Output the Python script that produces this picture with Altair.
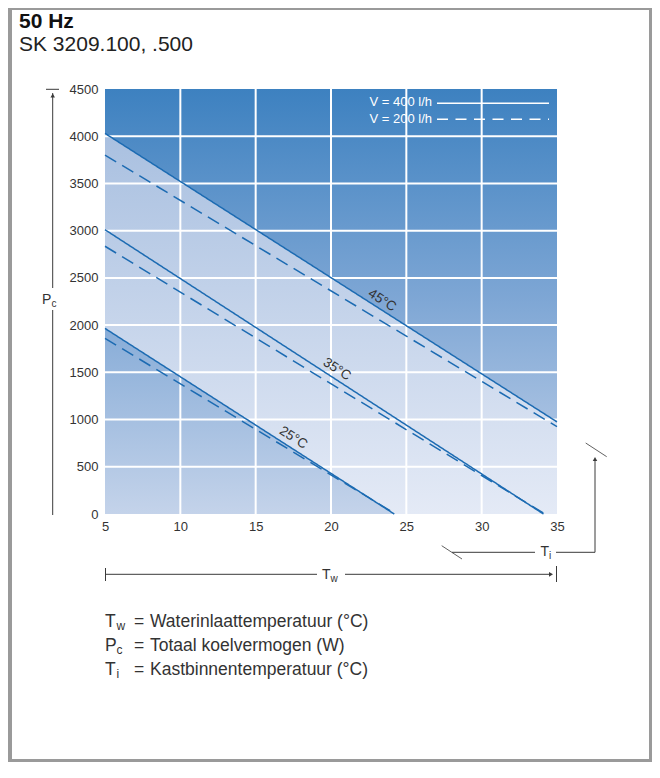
import altair as alt
import pandas as pd

FONT = "Liberation Sans"
TEXT = "#333333"
DECOR = "#3a3a3a"
LINE = "#1c6bb2"

# ---------------- data ----------------
x_ticks = [5, 10, 15, 20, 25, 30, 35]
y_ticks = [0, 500, 1000, 1500, 2000, 2500, 3000, 3500, 4000, 4500]
grid_x = [10, 15, 20, 25, 30]
grid_y = [500, 1000, 1500, 2000, 2500, 3000, 3500, 4000]

series_temp = ["45°C", "45°C", "35°C", "35°C", "25°C", "25°C"]
series_flow = ["400 l/h", "200 l/h", "400 l/h", "200 l/h", "400 l/h", "200 l/h"]
series_tw = [[5, 35], [5, 35], [5, 34.1], [5, 34.2], [5, 24.2], [5, 24.3]]
series_pc = [[4030, 975], [3800, 925], [3010, 0], [2835, 0], [1965, 0], [1860, 0]]

band_tw = [5, 24.2, 35]
band_top = [4030, 2075, 975]
band_bottom = [1965, 0, 0]

label_text = ["45°C", "35°C", "25°C"]
label_tw = [23.4, 20.4, 17.5]
label_pc = [2262, 1533, 807]

legend_text = ["V = 400 l/h", "V = 200 l/h"]

foot_sym = ["T", "P", "T"]
foot_sub = ["w", "c", "i"]
foot_desc = ["Waterinlaattemperatuur (°C)", "Totaal koelvermogen (W)", "Kastbinnentemperatuur (°C)"]

# ---------------- tables ----------------
rows = []
for t, f, xs_, ys_ in zip(series_temp, series_flow, series_tw, series_pc):
    for xv, yv in zip(xs_, ys_):
        rows.append({"tw": xv, "pc": yv, "temp": t, "flow": f, "key": t + f})
lines_df = pd.DataFrame(rows)
band_df = pd.DataFrame({"tw": band_tw, "top": band_top, "bottom": band_bottom})
labels_df = pd.DataFrame({"tw": label_tw, "pc": label_pc, "text": label_text})
dummy = pd.DataFrame({"a": [0]})

W, H = 452, 425
xs = alt.Scale(domain=[5, 35], nice=False, zero=False)
ys = alt.Scale(domain=[0, 4500], nice=False, zero=False)

dark = alt.LinearGradient(
    gradient="linear",
    stops=[alt.GradientStop(color="#3d81c0", offset=0),
           alt.GradientStop(color="#7fa7d5", offset=0.5),
           alt.GradientStop(color="#c4d3ea", offset=1)],
    x1=0, x2=0, y1=0, y2=1)
light = alt.LinearGradient(
    gradient="linear",
    stops=[alt.GradientStop(color="#a9c0e0", offset=0),
           alt.GradientStop(color="#e4eaf6", offset=1)],
    x1=0, x2=0, y1=0, y2=1)

x_axis = alt.Axis(values=x_ticks, title=None, grid=False, domain=False, ticks=False,
                  labelFont=FONT, labelFontSize=13, labelColor=TEXT, labelPadding=6,
                  labelFlush=False, labelOverlap=False, format="d")
y_axis = alt.Axis(values=y_ticks, title=None, grid=False, domain=False, ticks=False,
                  labelFont=FONT, labelFontSize=13, labelColor=TEXT, labelPadding=7,
                  labelFlush=False, labelOverlap=False, format="d")

bg = alt.Chart(pd.DataFrame({"tw": [5], "tw2": [35], "pc": [0], "pc2": [4500]})).mark_rect(
    fill=dark).encode(
    x=alt.X("tw:Q", scale=xs, axis=x_axis), x2="tw2:Q",
    y=alt.Y("pc:Q", scale=ys, axis=y_axis), y2="pc2:Q")

band = alt.Chart(band_df).mark_area(fill=light).encode(
    x=alt.X("tw:Q", scale=xs, axis=x_axis),
    y=alt.Y("top:Q", scale=ys, axis=y_axis), y2="bottom:Q")

gx = alt.Chart(pd.DataFrame({"tw": grid_x})).mark_rule(color="white", strokeWidth=2).encode(
    x=alt.X("tw:Q", scale=xs, axis=x_axis))
gy = alt.Chart(pd.DataFrame({"pc": grid_y})).mark_rule(color="white", strokeWidth=2).encode(
    y=alt.Y("pc:Q", scale=ys, axis=y_axis))

lines = alt.Chart(lines_df).mark_line(color=LINE, strokeWidth=1.5).encode(
    x=alt.X("tw:Q", scale=xs, axis=x_axis),
    y=alt.Y("pc:Q", scale=ys, axis=y_axis),
    detail="key:N",
    strokeDash=alt.StrokeDash("flow:N", scale=alt.Scale(domain=["400 l/h", "200 l/h"],
                                                        range=[[1, 0], [13, 7]]), legend=None))

labels = alt.Chart(labels_df).mark_text(angle=32.6, font=FONT, fontSize=13.5, color=TEXT).encode(
    x=alt.X("tw:Q", scale=xs, axis=x_axis),
    y=alt.Y("pc:Q", scale=ys, axis=y_axis),
    text="text:N")


def seg(x1, y1, x2, y2, color=DECOR, w=1.0, dash=None):
    kw = dict(color=color, strokeWidth=w)
    if dash:
        kw["strokeDash"] = dash
    return alt.Chart(dummy).mark_rule(**kw).encode(
        x=alt.value(x1), y=alt.value(y1), x2=alt.value(x2), y2=alt.value(y2))


def txt(s, x, y, size, color=TEXT, weight="normal", align="left", baseline="alphabetic"):
    return alt.Chart(dummy).mark_text(text=s, font=FONT, fontSize=size, color=color,
                                      fontWeight=weight, align=align, baseline=baseline).encode(
        x=alt.value(x), y=alt.value(y))


def tri(shape, x, y, size=22):
    return alt.Chart(dummy).mark_point(shape=shape, filled=True, size=size, color=DECOR,
                                       opacity=1).encode(x=alt.value(x), y=alt.value(y))


decor = [
    # legend inside plot
    txt(legend_text[0], 327, 12.7, 13, color="white", align="right", baseline="middle"),
    txt(legend_text[1], 327, 30, 13, color="white", align="right", baseline="middle"),
    seg(332, 14.3, 444, 14.3, color="white", w=1.6),
    seg(332, 30.3, 444, 30.3, color="white", w=1.6, dash=[11, 7.5]),
    # title
    txt("50 Hz", -86, -61, 21, color="#111111", weight="bold"),
    txt("SK 3209.100, .500", -86, -38.5, 21, color="#222222"),
    # Pc arrow
    seg(-59, 0.3, -46, 0.3),
    seg(-52.3, 4, -52.3, 199),
    seg(-52.3, 221, -52.3, 426),
    tri("triangle-up", -52.3, 6.5, 20),
    txt("P", -63, 214.5, 14),
    txt("c", -53.5, 217.5, 10),
    # Tw arrow
    seg(0.5, 479, 0.5, 492),
    seg(451.5, 477, 451.5, 493),
    seg(0.5, 485.3, 212, 485.3),
    seg(240, 485.3, 446, 485.3),
    tri("triangle-right", 446, 485.3, 22),
    txt("T", 217, 490, 14),
    txt("w", 225.5, 493, 10),
    # Ti arrow
    seg(336.7, 456.7, 357, 470, w=0.8),
    seg(347, 463.3, 430, 463.3),
    txt("T", 435.5, 467, 14),
    txt("i", 444, 470, 10),
    seg(451, 463.3, 490, 463.3),
    seg(490, 463.3, 490, 370),
    tri("triangle-up", 490, 370, 20),
    seg(480.7, 354, 501.7, 367.7, w=0.8),
    # frame
    seg(-95, -81, -95, 673, color="#9a9a9a", w=4),
    seg(-97, -80, 547, -80, color="#9a9a9a", w=2),
    seg(545.5, -81, 545.5, 673, color="#9a9a9a", w=3),
    seg(-97, 671.5, 547, 671.5, color="#9a9a9a", w=3),
]

foot_y = [538, 562, 586]
for sym, sub, desc, yy in zip(foot_sym, foot_sub, foot_desc, foot_y):
    decor.append(txt(sym, 0, yy, 17.5))
    decor.append(txt(sub, 11.5, yy + 3, 12))
    decor.append(txt("=", 29, yy, 17.5))
    decor.append(txt(desc, 45, yy, 17.5))

chart = alt.layer(bg, band, gx, gy, lines, labels, *decor).properties(
    width=W, height=H,
    padding={"left": 97, "top": 81, "right": 95, "bottom": 249},
    autosize=alt.AutoSizeParams(type="none"),
    background="white",
).configure_view(stroke=None)

chart.save("out.html", embed_options={"renderer": "svg", "actions": False})
